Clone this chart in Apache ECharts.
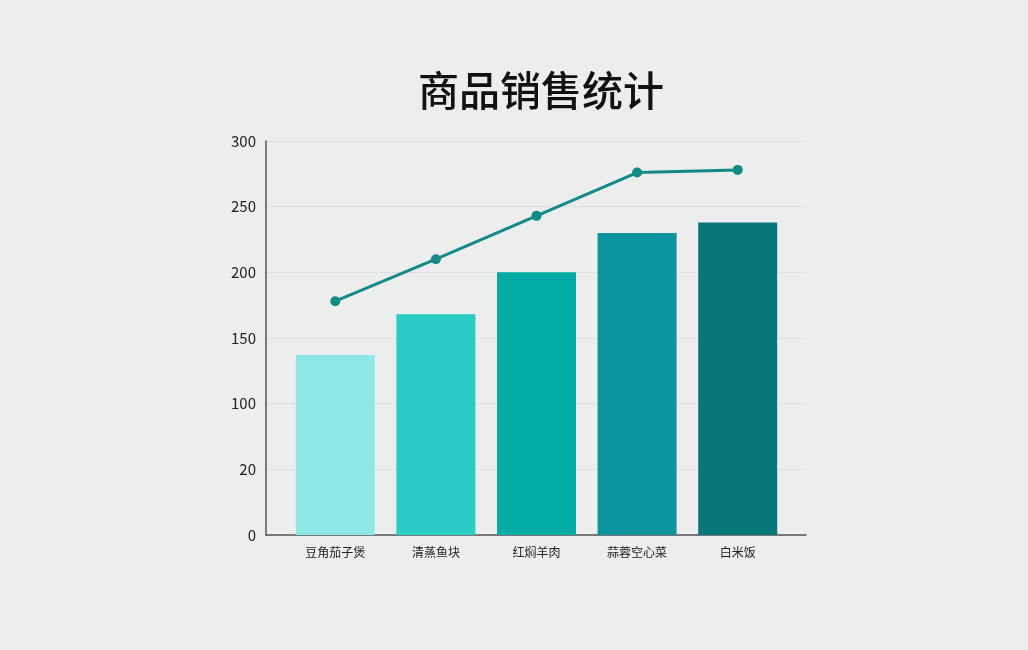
<!DOCTYPE html>
<html lang="zh">
<head>
    <meta charset="UTF-8">
    <title>商品销售统计</title>
    <style>
        body {
            margin: 0;
            padding: 0;
            background-color: #eceeed;
        }
        #main {
            width: 1028px;
            height: 650px;
        }
    </style>
    <script src="https://cdn.jsdelivr.net/npm/echarts@6/dist/echarts.min.js"></script>
</head>
<body>
<div id="main"></div>
<script>
    var chart = echarts.init(document.getElementById('main'));

    var categories = ['豆角茄子煲', '清蒸鱼块', '红焖羊肉', '蒜蓉空心菜', '白米饭'];
    var barValues = [137, 168, 200, 230, 238];
    var lineValues = [178, 210, 243, 276, 278];
    var barColors = ['#8fe8e6', '#29cdc5', '#03ada6', '#0a969c', '#08777c'];
    // tick labels as printed on the picture (second one reads "20")
    var yTickLabels = ['0', '20', '100', '150', '200', '250', '300'];

    var font = '"Noto Sans CJK SC", "Noto Sans", sans-serif';

    var option = {
        backgroundColor: '#eceeed',
        title: {
            text: '商品销售统计',
            left: 413,
            top: 65,
            textStyle: {
                color: '#111',
                fontSize: 41,
                fontWeight: 500,
                fontFamily: font
            }
        },
        grid: [
            {left: 266, width: 540, top: 141, height: 394},
            {left: 285, width: 503, top: 141, height: 394}
        ],
        xAxis: [
            {
                gridIndex: 0,
                type: 'value',
                min: 0,
                max: 1,
                axisLine: {show: true, onZero: false, lineStyle: {color: '#555', width: 1.5}},
                axisTick: {show: false},
                axisLabel: {show: false},
                splitLine: {show: false}
            },
            {
                gridIndex: 1,
                type: 'category',
                data: categories,
                axisLine: {show: false},
                axisTick: {show: false},
                axisLabel: {
                    margin: 11,
                    color: '#222',
                    fontSize: 12,
                    fontFamily: font
                }
            }
        ],
        yAxis: [
            {
                gridIndex: 0,
                type: 'value',
                min: 0,
                max: 300,
                interval: 50,
                axisLine: {show: true, lineStyle: {color: '#555', width: 1.5}},
                axisTick: {show: false},
                axisLabel: {
                    margin: 10,
                    color: '#222',
                    fontSize: 15,
                    fontFamily: font,
                    formatter: function (v) {
                        return yTickLabels[Math.round(v / 50)];
                    }
                },
                splitLine: {lineStyle: {color: '#dde0df', width: 1}}
            },
            {
                gridIndex: 1,
                type: 'value',
                min: 0,
                max: 300,
                show: false
            }
        ],
        series: [
            {
                type: 'bar',
                xAxisIndex: 1,
                yAxisIndex: 1,
                barWidth: 79,
                data: barValues.map(function (v, i) {
                    return {value: v, itemStyle: {color: barColors[i]}};
                })
            },
            {
                type: 'line',
                xAxisIndex: 1,
                yAxisIndex: 1,
                data: lineValues,
                symbol: 'circle',
                symbolSize: 10,
                lineStyle: {color: '#138a87', width: 3},
                itemStyle: {color: '#138a87'},
                z: 3
            }
        ]
    };
    chart.setOption(option);
</script>
</body>
</html>
